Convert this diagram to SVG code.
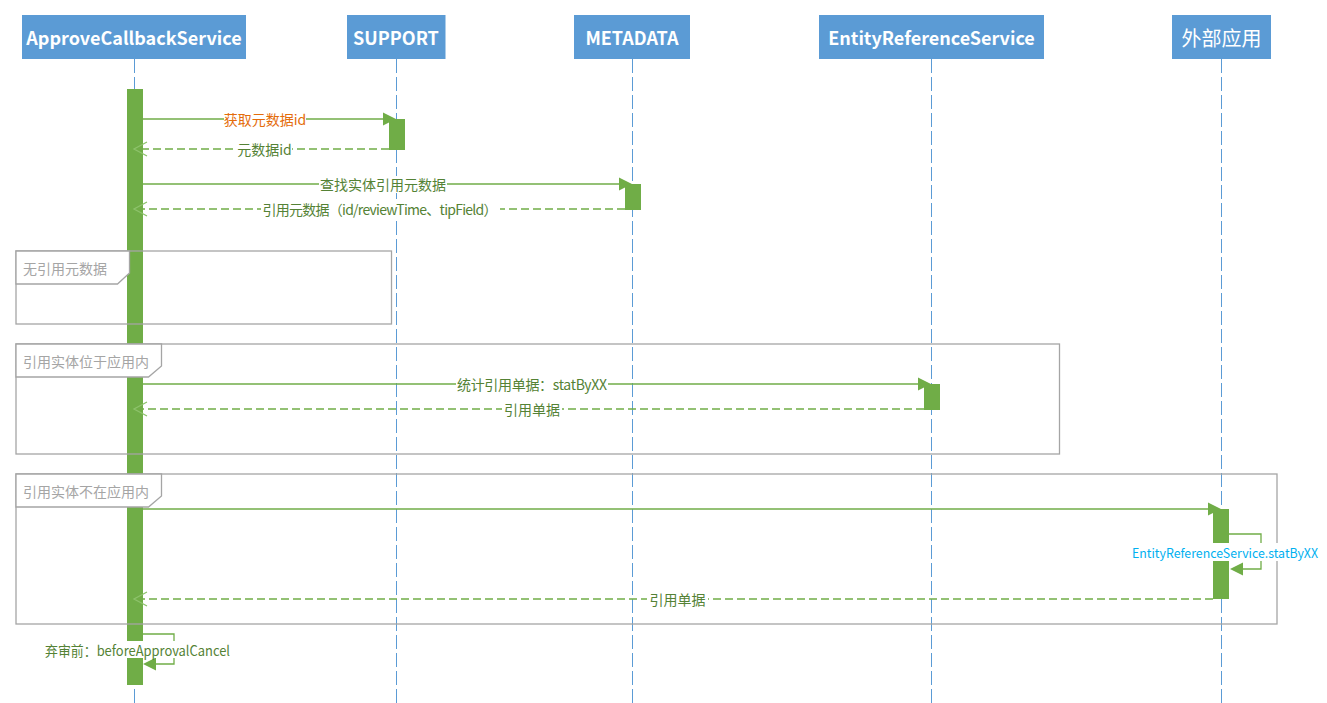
<svg xmlns="http://www.w3.org/2000/svg" width="1327" height="703" viewBox="0 0 1327 703">
<style>
text{font-family:"Noto Sans CJK SC","Noto Sans",sans-serif;dominant-baseline:central;text-anchor:middle}
.hdr{fill:#5B9BD5}
.ht{fill:#fff;font-size:18px;font-weight:bold}
.htc{fill:#fff;font-size:20px}
.life{stroke:#5B9BD5;stroke-width:1;stroke-dasharray:14 4;fill:none}
.act{fill:#70AD47}
.frame{fill:none;stroke:#A5A5A5;stroke-width:1.3}
.tab{fill:#fff;stroke:#A5A5A5;stroke-width:1.3}
.ft{fill:#A5A5A5;font-size:14px;text-anchor:start}
.msg{stroke:#70AD47;stroke-width:1.3;fill:none}
.ret{stroke:#70AD47;stroke-width:1.3;fill:none;stroke-dasharray:8 4;marker-end:url(#open)}
.head{fill:#70AD47}
.lb{fill:#548235;font-size:14px}
.bg{fill:#fff}
</style>
<defs>
<marker id="open" viewBox="-15 -9 17 18" refX="0" refY="0" markerWidth="17" markerHeight="18" markerUnits="userSpaceOnUse" orient="auto" overflow="visible">
<path d="M-13,-7 L0,0 L-13,7" fill="none" stroke="#8DC26B" stroke-width="1.3" stroke-dasharray="none"/>
</marker>
</defs>
<rect width="1327" height="703" fill="#fff"/>

<g id="lifelines">
<line class="life" x1="134.5" y1="59" x2="134.5" y2="703"/>
<line class="life" x1="396.5" y1="59" x2="396.5" y2="703"/>
<line class="life" x1="632.5" y1="59" x2="632.5" y2="703"/>
<line class="life" x1="931.5" y1="59" x2="931.5" y2="703"/>
<line class="life" x1="1221.5" y1="59" x2="1221.5" y2="703"/>
</g>

<g id="node-ApproveCallbackService">
<rect class="hdr" x="22" y="15" width="224" height="44"/>
<text class="ht" x="134" y="37">ApproveCallbackService</text>
<rect class="act" x="127" y="89" width="16" height="596"/>
</g>
<g id="node-SUPPORT">
<rect class="hdr" x="347" y="15" width="98.5" height="44"/>
<text class="ht" x="396" y="37">SUPPORT</text>
<rect class="act" x="389" y="119" width="16" height="31"/>
</g>
<g id="node-METADATA">
<rect class="hdr" x="574" y="15" width="116" height="44"/>
<text class="ht" x="632" y="37">METADATA</text>
<rect class="act" x="625" y="184" width="16" height="26"/>
</g>
<g id="node-EntityReferenceService">
<rect class="hdr" x="819" y="15" width="225" height="44"/>
<text class="ht" x="931.5" y="37">EntityReferenceService</text>
<rect class="act" x="924" y="384" width="16" height="26"/>
</g>
<g id="node-ExternalApp">
<rect class="hdr" x="1172" y="15" width="99" height="44"/>
<text class="htc" x="1221.5" y="37">外部应用</text>
<rect class="act" x="1213" y="509" width="16" height="90"/>
</g>

<g id="frag-no-ref">
<rect class="frame" x="16" y="251" width="375.5" height="73"/>
<path class="tab" d="M16,251 H129.5 V273 L117.5,284 H16 Z"/>
<text class="ft" x="23" y="267.5">无引用元数据</text>
</g>
<g id="frag-in-app">
<rect class="frame" x="16" y="344" width="1043.5" height="110"/>
<path class="tab" d="M16,344 H161.5 V366 L148.5,377 H16 Z"/>
<text class="ft" x="23" y="360.5">引用实体位于应用内</text>
</g>
<g id="frag-not-in-app">
<rect class="frame" x="16" y="474" width="1261" height="150"/>
<path class="tab" d="M16,474 H161.5 V496 L148.5,507 H16 Z"/>
<text class="ft" x="23" y="490.5">引用实体不在应用内</text>
</g>

<g id="connectors">
<line class="msg" x1="143" y1="119" x2="383" y2="119"/>
<polygon class="head" points="383,112.5 396,119 389,119 389,122.5 383,125.5"/>
<rect class="bg" x="224" y="111" width="82" height="17"/>
<text x="265" y="119" font-size="14" fill="#E46C0A">获取元数据id</text>

<line class="ret" x1="389" y1="149" x2="134" y2="149"/>
<rect class="bg" x="237" y="141" width="55" height="17"/>
<text class="lb" x="264.5" y="149">元数据id</text>

<line class="msg" x1="143" y1="184" x2="619" y2="184"/>
<polygon class="head" points="619,177.5 632,184 625,184 625,187.5 619,190.5"/>
<rect class="bg" x="319" y="176" width="128" height="17"/>
<text class="lb" x="383" y="184">查找实体引用元数据</text>

<line class="ret" x1="625" y1="209" x2="134" y2="209"/>
<rect class="bg" x="261" y="201" width="239" height="17"/>
<text class="lb" x="380" y="209" textLength="235">引用元数据（id/reviewTime、tipField）</text>

<line class="msg" x1="143" y1="384" x2="918" y2="384"/>
<polygon class="head" points="918,377.5 931,384 924,384 924,387.5 918,390.5"/>
<rect class="bg" x="456" y="376" width="152" height="17"/>
<text class="lb" x="532" y="384" textLength="150">统计引用单据：statByXX</text>

<line class="ret" x1="924" y1="409" x2="134" y2="409"/>
<rect class="bg" x="502" y="401" width="60" height="17"/>
<text class="lb" x="532" y="409">引用单据</text>

<line class="msg" x1="143" y1="509" x2="1208" y2="509"/>
<polygon class="head" points="1208,502.5 1221,509 1213,509 1213,513 1208,515.5"/>

<polyline class="msg" points="1221,534 1261,534 1261,569 1243,569"/>
<path class="head" d="M1243,562.5 L1230,569 L1243,575.5 Z"/>
<rect class="bg" x="1130" y="543" width="190" height="18"/>
<text x="1225" y="552" font-size="13" fill="#00B0F0" textLength="186" lengthAdjust="spacingAndGlyphs">EntityReferenceService.statByXX</text>

<line class="ret" x1="1213" y1="599" x2="134" y2="599"/>
<rect class="bg" x="647" y="591" width="61" height="17"/>
<text class="lb" x="677.5" y="599">引用单据</text>

<polyline class="msg" points="134,634 174,634 174,664 156,664"/>
<path class="head" d="M156,657.5 L143,664 L156,670.5 Z"/>
<rect class="bg" x="43" y="641" width="190" height="17"/>
<text class="lb" x="137.5" y="650" textLength="185" lengthAdjust="spacingAndGlyphs">弃审前：beforeApprovalCancel</text>
</g>
</svg>
